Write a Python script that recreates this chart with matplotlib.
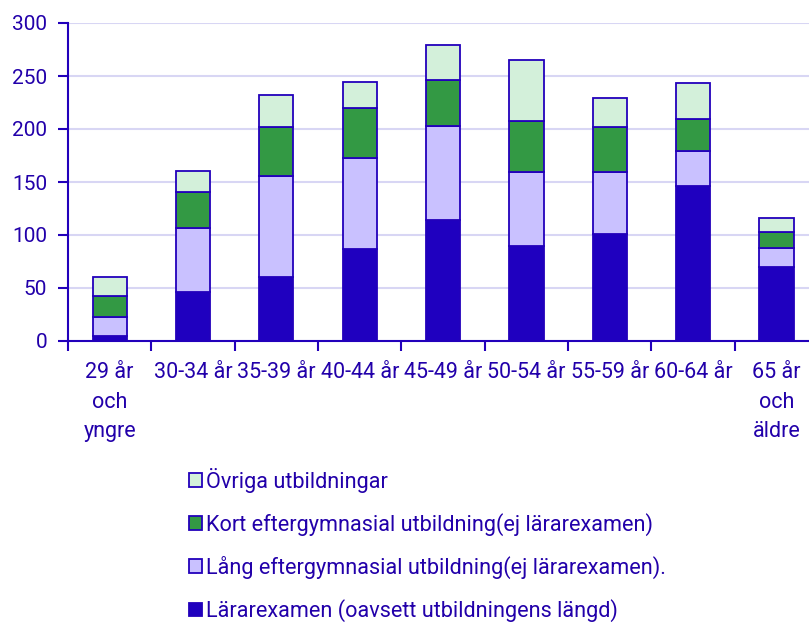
import matplotlib.pyplot as plt
import numpy as np

plt.rcParams['font.family'] = ['Roboto', 'DejaVu Sans']

categories = ["29 år\noch\nyngre", "30-34 år", "35-39 år", "40-44 år", "45-49 år",
              "50-54 år", "55-59 år", "60-64 år", "65 år\noch\näldre"]

# Antal per åldersgrupp och utbildning
lararexamen = [5, 46, 60, 87, 114, 90, 101, 146, 70]
lang_eftergymn = [18, 61, 96, 86, 89, 69, 58, 33, 18]
kort_eftergymn = [19, 34, 46, 47, 43, 49, 43, 30, 15]
ovriga = [18, 19, 30, 24, 33, 57, 27, 34, 13]

series = [
    ("Lärarexamen (oavsett utbildningens längd)", lararexamen, "#1f00bf"),
    ("Lång eftergymnasial utbildning(ej lärarexamen).", lang_eftergymn, "#c9c1ff"),
    ("Kort eftergymnasial utbildning(ej lärarexamen)", kort_eftergymn, "#339944"),
    ("Övriga utbildningar", ovriga, "#d3f0da"),
]

text_col = "#2200aa"
edge_col = "#2200bb"

fig = plt.figure(figsize=(8.09, 6.24), dpi=100)
ax = fig.add_axes([68 / 809, 1 - 341 / 624, 741 / 809, 318 / 624])

x = np.arange(len(categories))
bottom = np.zeros(len(categories))
handles = []
for label, vals, col in series:
    b = ax.bar(x, vals, width=0.41, bottom=bottom, color=col, edgecolor=edge_col,
               linewidth=1.3, label=label, zorder=3)
    handles.append(b)
    bottom += np.array(vals)

ax.set_xlim(-0.5, 8.39)
ax.set_ylim(0, 300)
ax.set_yticks(range(0, 301, 50))
ax.set_xticks(x)
ax.set_xticklabels(categories, linespacing=1.55)
ax.set_xticks(np.arange(-0.5, 8.0, 1), minor=True)
ax.tick_params(axis='x', which='major', length=0, pad=15, labelsize=15.5, labelcolor=text_col)
ax.tick_params(axis='x', which='minor', length=7, width=1.5, color=edge_col, direction='out')
ax.tick_params(axis='y', length=7, width=1.5, color=edge_col, labelsize=15, labelcolor=text_col, pad=8)

ax.grid(axis='y', color="#d8d6f4", linewidth=1.5, zorder=0)
for s in ['top', 'right']:
    ax.spines[s].set_visible(False)
for s in ['left', 'bottom']:
    ax.spines[s].set_color(edge_col)
    ax.spines[s].set_linewidth(1.5)

leg = fig.legend(handles[::-1], [s[0] for s in series][::-1], loc='upper left',
                 bbox_to_anchor=(180 / 809, 1 - 459 / 624), frameon=False,
                 fontsize=15.6, labelcolor=text_col, handlelength=0.6, handleheight=0.6,
                 handletextpad=0.2, labelspacing=0.93, borderaxespad=0)

fig.savefig("out.png", dpi=100)
